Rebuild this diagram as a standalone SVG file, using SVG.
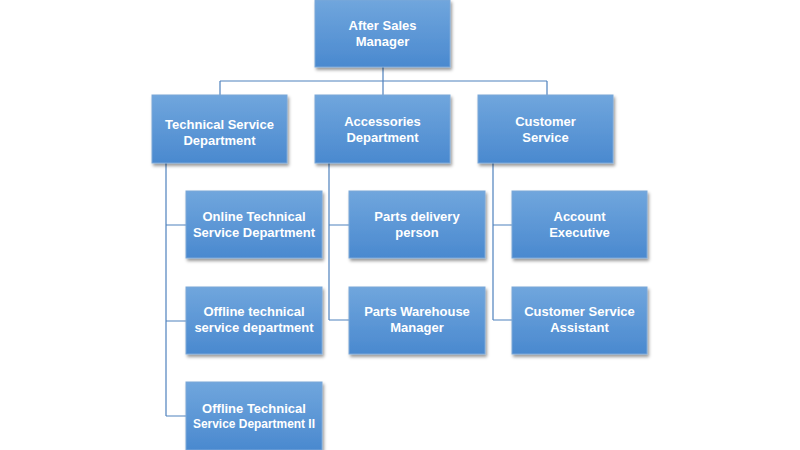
<svg xmlns="http://www.w3.org/2000/svg" width="800" height="450" viewBox="0 0 800 450">
<style>
.box{fill:url(#g);stroke:#7aa7d8;stroke-width:1;filter:url(#sh)}
.t{font-family:"Liberation Sans",Arial,sans-serif;font-size:13px;font-weight:bold;fill:#ffffff;text-anchor:middle}
.c{fill:none;stroke:#4f81bd;stroke-width:1.2}
</style>
<defs>
<linearGradient id="g" x1="0" y1="0" x2="0" y2="1">
<stop offset="0" stop-color="#70a6dd"/>
<stop offset="1" stop-color="#4a89cf"/>
</linearGradient>
<filter id="sh" x="-10%" y="-10%" width="125%" height="130%">
<feDropShadow dx="1.5" dy="2.5" stdDeviation="1.5" flood-color="#000" flood-opacity="0.4"/>
</filter>
</defs>
<rect width="800" height="450" fill="#ffffff"/>
<g id="connectors">
<path class="c" d="M383 67V95M220 81H547M220 81V95M383 81V95M547 81V95"/>
<path class="c" d="M166 163V416M166 225H186M166 321H186M166 416H186"/>
<path class="c" d="M329 163V320M329 225H349M329 320H349"/>
<path class="c" d="M493 163V320M493 225H512M493 320H512"/>
</g>
<g id="n-manager"><rect class="box" x="315" y="0" width="135" height="67"/><text class="t" x="382.5" y="30">After Sales</text><text class="t" x="382.5" y="46">Manager</text></g>
<g id="n-tech"><rect class="box" x="152" y="95" width="135" height="68"/><text class="t" x="219.5" y="129">Technical Service</text><text class="t" x="219.5" y="145">Department</text></g>
<g id="n-acc"><rect class="box" x="315" y="95" width="135" height="68"/><text class="t" x="382.5" y="126">Accessories</text><text class="t" x="382.5" y="142">Department</text></g>
<g id="n-cs"><rect class="box" x="478" y="95" width="135" height="68"/><text class="t" x="545.5" y="126">Customer</text><text class="t" x="545.5" y="142">Service</text></g>
<g id="n-online"><rect class="box" x="186" y="191" width="136" height="67"/><text class="t" x="254" y="221">Online Technical</text><text class="t" x="254" y="237">Service Department</text></g>
<g id="n-offline"><rect class="box" x="186" y="287" width="136" height="67"/><text class="t" x="254" y="316">Offline technical</text><text class="t" x="254" y="332">service department</text></g>
<g id="n-offline2"><rect class="box" x="186" y="382" width="136" height="68"/><text class="t" x="254" y="413">Offline Technical</text><text class="t" x="254" y="428" textLength="122" lengthAdjust="spacingAndGlyphs">Service Department II</text></g>
<g id="n-delivery"><rect class="box" x="349" y="191" width="136" height="67"/><text class="t" x="417" y="221">Parts delivery</text><text class="t" x="417" y="237">person</text></g>
<g id="n-warehouse"><rect class="box" x="349" y="287" width="136" height="67"/><text class="t" x="417" y="316">Parts Warehouse</text><text class="t" x="417" y="332">Manager</text></g>
<g id="n-account"><rect class="box" x="512" y="191" width="135" height="67"/><text class="t" x="579.5" y="221">Account</text><text class="t" x="579.5" y="237">Executive</text></g>
<g id="n-assistant"><rect class="box" x="512" y="287" width="135" height="67"/><text class="t" x="579.5" y="316">Customer Service</text><text class="t" x="579.5" y="332">Assistant</text></g>
</svg>
